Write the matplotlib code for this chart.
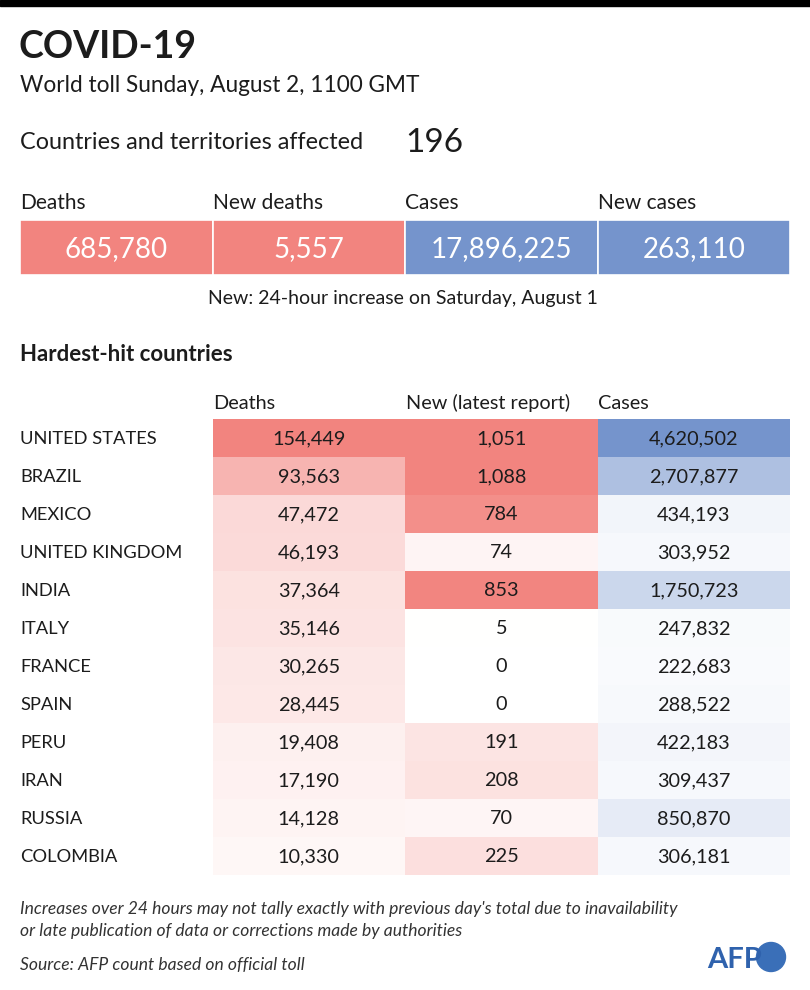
import matplotlib.pyplot as plt
from matplotlib.colors import LinearSegmentedColormap, Normalize
from matplotlib.patches import Circle

plt.switch_backend('agg')

# world totals
summary_labels = ["Deaths", "New deaths", "Cases", "New cases"]
summary_values = [685780, 5557, 17896225, 263110]
countries_affected = 196

# hardest-hit countries
countries = ["UNITED STATES", "BRAZIL", "MEXICO", "UNITED KINGDOM", "INDIA", "ITALY",
             "FRANCE", "SPAIN", "PERU", "IRAN", "RUSSIA", "COLOMBIA"]
deaths = [154449, 93563, 47472, 46193, 37364, 35146, 30265, 28445, 19408, 17190, 14128, 10330]
new_deaths = [1051, 1088, 784, 74, 853, 5, 0, 0, 191, 208, 70, 225]
cases = [4620502, 2707877, 434193, 303952, 1750723, 247832, 222683, 288522,
         422183, 309437, 850870, 306181]
table_headers = ["Deaths", "New (latest report)", "Cases"]

RED = '#f2847f'
BLUE = '#7594cc'
INK = '#1c1c1c'
FONT = 'Lato'

plt.rcParams['font.family'] = [FONT, 'DejaVu Sans']

fig = plt.figure(figsize=(8.1, 9.9), dpi=100)
ax = fig.add_axes([0, 0, 1, 1])
ax.set_xlim(0, 810)
ax.set_ylim(990, 0)
ax.axis('off')

# black strip at the top
ax.axhspan(0, 6, color='black')

ax.text(19, 58, "COVID-19", fontsize=27, fontweight='bold', color=INK, va='baseline')
ax.text(20, 92, "World toll Sunday, August 2, 1100 GMT", fontsize=16.3, color=INK, va='baseline')
ax.text(20, 149, "Countries and territories affected", fontsize=16.8, color=INK, va='baseline')
ax.text(405, 152, str(countries_affected), fontsize=24, color=INK, va='baseline')

# summary boxes
col_x = [20, 212.5, 405, 597.5]
col_w = 192.5
box_colors = [RED, RED, BLUE, BLUE]
ax.bar(col_x, [55] * 4, width=col_w, bottom=220, align='edge',
       color=box_colors, edgecolor='white', linewidth=1.2)
for i, (lab, val) in enumerate(zip(summary_labels, summary_values)):
    ax.text(col_x[i] + 0.5, 209, lab, fontsize=15, color=INK, va='baseline')
    ax.text(col_x[i] + col_w / 2, 257, f"{val:,}", fontsize=20, color='white',
            ha='center', va='baseline')
ax.text(403, 304, "New: 24-hour increase on Saturday, August 1", fontsize=14,
        color=INK, ha='center', va='baseline')

# hardest-hit table
ax.text(20, 361, "Hardest-hit countries", fontsize=16, fontweight='bold', color=INK, va='baseline')
tcol_x = [212.5, 405, 597.5]
row_top = 419
row_h = 38
for j, h in enumerate(table_headers):
    ax.text(tcol_x[j] + 0.5, 409, h, fontsize=14.3, color=INK, va='baseline')

columns = [deaths, new_deaths, cases]
col_colors = [RED, RED, BLUE]
col_vmax = [max(deaths), 860, max(cases)]
rows = range(len(countries))
tops = [row_top + i * row_h for i in rows]
for j, vals in enumerate(columns):
    cmap = LinearSegmentedColormap.from_list(f'c{j}', ['white', col_colors[j]])
    norm = Normalize(0, col_vmax[j], clip=True)
    ax.bar([tcol_x[j]] * len(vals), [row_h] * len(vals), width=col_w, bottom=tops,
           align='edge', color=[cmap(norm(v)) for v in vals], linewidth=0)
    for i, v in enumerate(vals):
        ax.text(tcol_x[j] + col_w / 2, tops[i] + 25, f"{v:,}", fontsize=14.3,
                color=INK, ha='center', va='baseline')
for i, name in enumerate(countries):
    ax.text(20, tops[i] + 25, name, fontsize=13.2, color=INK, va='baseline')

# footnotes
note_style = dict(fontsize=12.6, style='italic', color='#333333', va='baseline')
ax.text(20, 914, "Increases over 24 hours may not tally exactly with previous day's total due to inavailability",
        **note_style)
ax.text(20, 936, "or late publication of data or corrections made by authorities", **note_style)
ax.text(20, 970, "Source: AFP count based on official toll", **note_style)

# AFP logo
ax.add_patch(Circle((771, 957), 14.5, color='#3a6fb8'))
ax.text(762, 968, "AFP", fontsize=21, fontweight='bold', color='#2f62ad',
        ha='right', va='baseline')

fig.savefig('out.png', dpi=100)
